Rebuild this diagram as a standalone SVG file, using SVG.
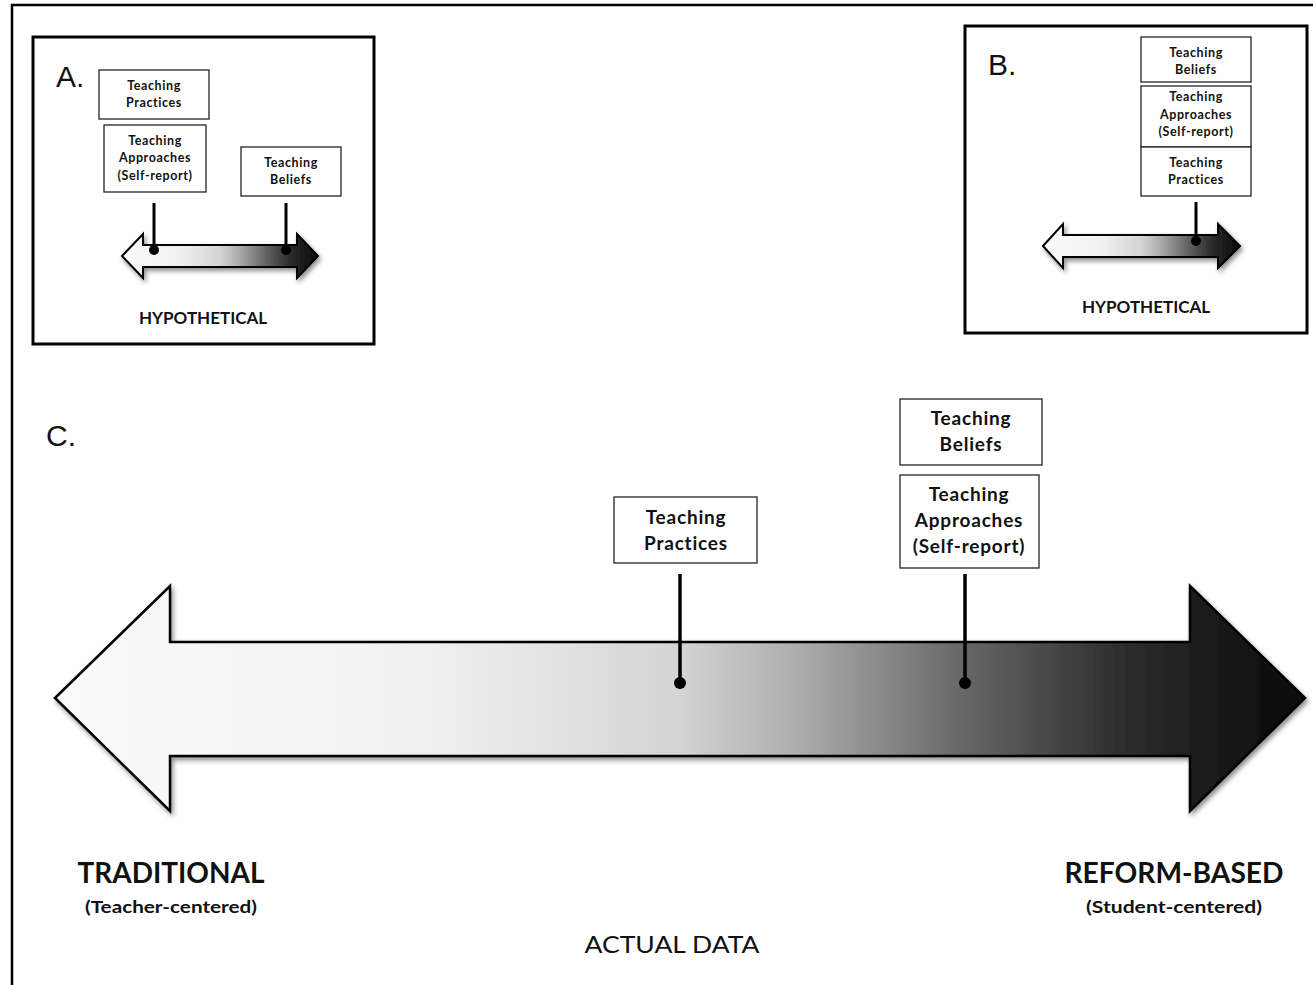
<svg xmlns="http://www.w3.org/2000/svg" width="1313" height="985" viewBox="0 0 1313 985">
  <defs>
    <linearGradient id="spectrum" x1="0" y1="0" x2="1" y2="0">
      <stop offset="0" stop-color="#fbfbfb"/>
      <stop offset="0.3" stop-color="#f0f0f0"/>
      <stop offset="0.5" stop-color="#d4d4d4"/>
      <stop offset="0.6" stop-color="#aaa"/>
      <stop offset="0.72" stop-color="#6a6a6a"/>
      <stop offset="0.85" stop-color="#2e2e2e"/>
      <stop offset="1" stop-color="#080808"/>
    </linearGradient>
    <filter id="shadow" x="-10%" y="-20%" width="125%" height="150%">
      <feDropShadow dx="2" dy="3" stdDeviation="2.5" flood-color="#000" flood-opacity="0.45"/>
    </filter>
  </defs>
  <style>
    .frame { fill: none; stroke: #000; stroke-width: 3; }
    .box { fill: #fff; stroke: #222; stroke-width: 1.3; }
    .arrow { fill: url(#spectrum); stroke: #000; stroke-width: 2.5; stroke-linejoin: miter; filter: url(#shadow); }
    .arrow-sm { fill: url(#spectrum); stroke: #000; stroke-width: 2; filter: url(#shadow); }
    .stem { stroke: #000; stroke-width: 3.5; }
    .stem-sm { stroke: #000; stroke-width: 3; }
    .lbl { font-family: Lato, "Liberation Sans", sans-serif; font-weight: bold; fill: #111; text-anchor: middle; }
    .s { letter-spacing: 0.6px; }
    .m { letter-spacing: 0.8px; }
    .panel { font-family: "Liberation Sans", Arial, sans-serif; font-size: 30px; fill: #111; }
  </style>

  <rect width="1313" height="985" fill="#fff"/>

  <!-- outer border -->
  <path d="M12 985 V5 H1313" fill="none" stroke="#000" stroke-width="2.5"/>

  <!-- Panel A -->
  <g id="panel-a">
    <rect class="frame" x="33" y="37" width="341" height="307"/>
    <text class="panel" x="56" y="87">A.</text>
    <text class="lbl" x="203" y="324" font-size="17">HYPOTHETICAL</text>
  </g>
  <g id="a-practices">
    <rect class="box" x="99" y="70" width="110" height="49"/>
    <text class="lbl s" x="154" y="90" font-size="12.5">Teaching</text>
    <text class="lbl s" x="154" y="107" font-size="12.5">Practices</text>
  </g>
  <g id="a-approaches">
    <rect class="box" x="104" y="125" width="102" height="67"/>
    <text class="lbl s" x="155" y="145" font-size="12.5">Teaching</text>
    <text class="lbl s" x="155" y="162" font-size="12.5">Approaches</text>
    <text class="lbl s" x="155" y="180" font-size="12.5">(Self-report)</text>
  </g>
  <g id="a-beliefs">
    <rect class="box" x="241" y="147" width="100" height="49"/>
    <text class="lbl s" x="291" y="167" font-size="12.5">Teaching</text>
    <text class="lbl s" x="291" y="184" font-size="12.5">Beliefs</text>
  </g>
  <g id="a-arrow">
    <path class="arrow-sm" d="M122 256 L143 234 V245 H297 V234 L318 256 L297 278 V267 H143 V278 Z"/>
  </g>

  <!-- Panel B -->
  <g id="panel-b">
    <rect class="frame" x="965" y="26" width="342" height="307"/>
    <text class="panel" x="988" y="75">B.</text>
    <text class="lbl" x="1146" y="313" font-size="17">HYPOTHETICAL</text>
  </g>
  <g id="b-beliefs">
    <rect class="box" x="1141" y="37" width="110" height="45"/>
    <text class="lbl s" x="1196" y="57" font-size="12.5">Teaching</text>
    <text class="lbl s" x="1196" y="74" font-size="12.5">Beliefs</text>
  </g>
  <g id="b-approaches">
    <rect class="box" x="1141" y="86" width="110" height="61"/>
    <text class="lbl s" x="1196" y="101" font-size="12.5">Teaching</text>
    <text class="lbl s" x="1196" y="119" font-size="12.5">Approaches</text>
    <text class="lbl s" x="1196" y="136" font-size="12.5">(Self-report)</text>
  </g>
  <g id="b-practices">
    <rect class="box" x="1141" y="147" width="110" height="49"/>
    <text class="lbl s" x="1196" y="167" font-size="12.5">Teaching</text>
    <text class="lbl s" x="1196" y="184" font-size="12.5">Practices</text>
  </g>
  <g id="b-arrow">
    <path class="arrow-sm" d="M1043 246 L1063 224 V235 H1218 V224 L1240 246 L1218 268 V257 H1063 V268 Z"/>
  </g>

  <!-- Panel C -->
  <g id="panel-c">
    <text class="panel" x="46" y="446">C.</text>
  </g>
  <g id="c-arrow">
    <path class="arrow" d="M55 698 L170 586 V642 H1190 V586 L1305 698 L1190 811 V756 H170 V811 Z"/>
  </g>
  <g id="c-practices">
    <rect class="box" x="614" y="497" width="143" height="66"/>
    <text class="lbl m" x="686" y="524" font-size="19">Teaching</text>
    <text class="lbl m" x="686" y="550" font-size="19">Practices</text>
  </g>
  <g id="c-beliefs">
    <rect class="box" x="900" y="399" width="142" height="66"/>
    <text class="lbl m" x="971" y="425" font-size="19">Teaching</text>
    <text class="lbl m" x="971" y="451" font-size="19">Beliefs</text>
  </g>
  <g id="c-approaches">
    <rect class="box" x="900" y="475" width="139" height="93"/>
    <text class="lbl m" x="969" y="501" font-size="19">Teaching</text>
    <text class="lbl m" x="969" y="527" font-size="19">Approaches</text>
    <text class="lbl m" x="969" y="553" font-size="19">(Self-report)</text>
  </g>
  <g id="c-traditional">
    <text class="lbl" x="171" y="883" font-size="28" textLength="187" lengthAdjust="spacingAndGlyphs">TRADITIONAL</text>
    <text class="lbl" x="171" y="913" font-size="17" textLength="172" lengthAdjust="spacingAndGlyphs">(Teacher-centered)</text>
  </g>
  <g id="c-reform">
    <text class="lbl" x="1174" y="883" font-size="28" textLength="219" lengthAdjust="spacingAndGlyphs">REFORM-BASED</text>
    <text class="lbl" x="1174" y="913" font-size="17" textLength="176" lengthAdjust="spacingAndGlyphs">(Student-centered)</text>
  </g>
  <text x="672" y="953" font-family="Lato, 'Liberation Sans', sans-serif" font-size="23" fill="#111" text-anchor="middle" textLength="175" lengthAdjust="spacingAndGlyphs">ACTUAL DATA</text>

  <!-- connectors: pins from labels down to their positions on each spectrum -->
  <g id="connectors">
    <line class="stem-sm" x1="154" y1="203" x2="154" y2="250"/>
    <circle cx="154" cy="250" r="5"/>
    <line class="stem-sm" x1="286" y1="203" x2="286" y2="250"/>
    <circle cx="286" cy="250" r="5"/>
    <line class="stem-sm" x1="1196" y1="202" x2="1196" y2="241"/>
    <circle cx="1196" cy="241" r="5"/>
    <line class="stem" x1="680" y1="574" x2="680" y2="683"/>
    <circle cx="680" cy="683" r="6"/>
    <line class="stem" x1="965" y1="574" x2="965" y2="683"/>
    <circle cx="965" cy="683" r="6"/>
  </g>
</svg>
